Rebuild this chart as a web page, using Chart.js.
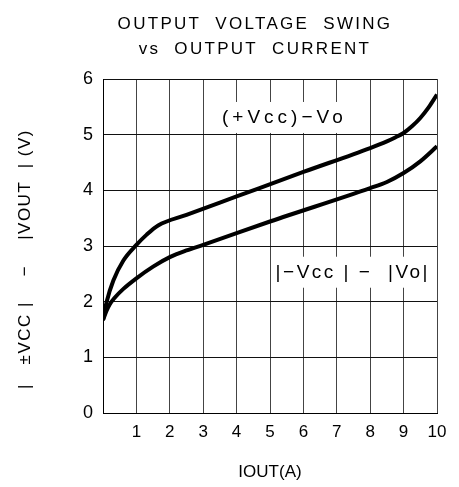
<!DOCTYPE html>
<html lang="en">
<head>
    <meta charset="UTF-8">
    <title>Output Voltage Swing vs Output Current</title>
    <script src="https://cdn.jsdelivr.net/npm/chart.js"></script>
    <style>
        html, body { margin: 0; padding: 0; background: #fff; }
        #chart { display: block; }
    </style>
</head>
<body>
    <canvas id="chart" width="459" height="487"></canvas>

    <script>
        // data
        const upperX = [0, 0.11, 0.31, 0.61, 1, 1.3, 1.65, 2.5, 4, 6, 8, 8.5, 8.75, 9, 9.25, 9.5, 9.75, 10];
        const upperY = [1.67, 2.0, 2.38, 2.74, 3.02, 3.2, 3.37, 3.56, 3.89, 4.33, 4.76, 4.88, 4.95, 5.03, 5.15, 5.3, 5.49, 5.72];
        const lowerX = [0, 0.1, 0.2, 0.35, 0.61, 1, 1.5, 2, 2.5, 3, 5, 8, 8.5, 9, 9.5, 10];
        const lowerY = [1.67, 1.83, 1.95, 2.07, 2.23, 2.42, 2.63, 2.8, 2.92, 3.02, 3.44, 4.04, 4.15, 4.31, 4.52, 4.79];

        const xTicks = [0, 1, 2, 3, 4, 5, 6, 7, 8, 9, 10];
        const yTicks = [0, 1, 2, 3, 4, 5, 6];
        const titleLines = ["OUTPUT  VOLTAGE  SWING", "vs  OUTPUT  CURRENT"];
        const yTitle = "|   ±VCC |    −    |VOUT  | (V)";
        const xTitle = "IOUT(A)";
        const curveLabelTexts = ["(+Vcc)−Vo", "|−Vcc | −  |Vo|"];

        const FONT = "'Liberation Sans', Arial, sans-serif";

        function toPoints(xs, ys) {
            return xs.map((x, i) => ({ x: x, y: ys[i] }));
        }

        // titles and curve labels drawn on top
        const textPlugin = {
            id: "texts",
            afterDraw(chart) {
                const ctx = chart.ctx;
                const area = chart.chartArea;
                const sx = chart.scales.x;
                const sy = chart.scales.y;
                ctx.save();
                ctx.fillStyle = "#000";
                ctx.textAlign = "center";
                ctx.textBaseline = "middle";
                ctx.font = "17px " + FONT;
                ctx.letterSpacing = "2.3px";
                const cx = (area.left + area.right) / 2 - 15;
                ctx.fillText(titleLines[0], cx, 24);
                ctx.fillText(titleLines[1], cx, 49);

                // rotated y axis title
                ctx.letterSpacing = "1.5px";
                ctx.save();
                ctx.translate(25, (area.top + area.bottom) / 2 + 13);
                ctx.rotate(-Math.PI / 2);
                ctx.fillText(yTitle, 0, 0);
                ctx.restore();

                // curve labels on white boxes (anchor in data units + letter spacing)
                const anchors = [[5.4, 5.3, "4px"], [7.45, 2.52, "2.5px"]];
                ctx.font = "19px " + FONT;
                curveLabelTexts.forEach((txt, i) => {
                    ctx.letterSpacing = anchors[i][2];
                    const px = sx.getPixelForValue(anchors[i][0]);
                    const py = sy.getPixelForValue(anchors[i][1]);
                    const w = ctx.measureText(txt).width + 4;
                    ctx.fillStyle = "#fff";
                    ctx.fillRect(px - w / 2, py - 16, w, 31);
                    ctx.fillStyle = "#000";
                    ctx.fillText(txt, px + 1, py);
                });
                ctx.restore();
            }
        };

        const ctx = document.getElementById("chart").getContext("2d");
        new Chart(ctx, {
            type: "line",
            data: {
                datasets: [
                    {
                        label: "(+Vcc)-Vo",
                        data: toPoints(upperX, upperY),
                        borderColor: "#000",
                        borderWidth: 4,
                        pointRadius: 0,
                        fill: false,
                        cubicInterpolationMode: "monotone"
                    },
                    {
                        label: "|-Vcc| - |Vo|",
                        data: toPoints(lowerX, lowerY),
                        borderColor: "#000",
                        borderWidth: 4,
                        pointRadius: 0,
                        fill: false,
                        cubicInterpolationMode: "monotone"
                    }
                ]
            },
            options: {
                responsive: false,
                animation: false,
                devicePixelRatio: 1,
                layout: { padding: { top: 79, right: 22, left: 0, bottom: 0 } },
                plugins: {
                    legend: { display: false },
                    tooltip: { enabled: false },
                    title: { display: false }
                },
                scales: {
                    x: {
                        type: "linear",
                        min: 0,
                        max: 10,
                        afterBuildTicks: s => { s.ticks = xTicks.map(v => ({ value: v })); },
                        afterFit: s => { s.height = 74; },
                        grid: { color: "#444", lineWidth: 1, drawTicks: false },
                        border: { color: "#000", width: 1 },
                        ticks: {
                            color: "#000",
                            padding: 9,
                            maxRotation: 0,
                            font: { family: FONT, size: 17 },
                            callback: v => (v === 0 ? "" : String(v))
                        },
                        title: {
                            display: true,
                            text: xTitle,
                            color: "#000",
                            font: { family: FONT, size: 17 },
                            padding: { top: 13 }
                        }
                    },
                    y: {
                        type: "linear",
                        min: 0,
                        max: 6,
                        afterBuildTicks: s => { s.ticks = yTicks.map(v => ({ value: v })); },
                        afterFit: s => { s.width = 103; },
                        grid: { color: "#111", lineWidth: 1, drawTicks: false },
                        border: { color: "#000", width: 1 },
                        ticks: {
                            color: "#000",
                            padding: 10,
                            font: { family: FONT, size: 18 }
                        }
                    }
                }
            },
            plugins: [textPlugin]
        });
    </script>
</body>
</html>
